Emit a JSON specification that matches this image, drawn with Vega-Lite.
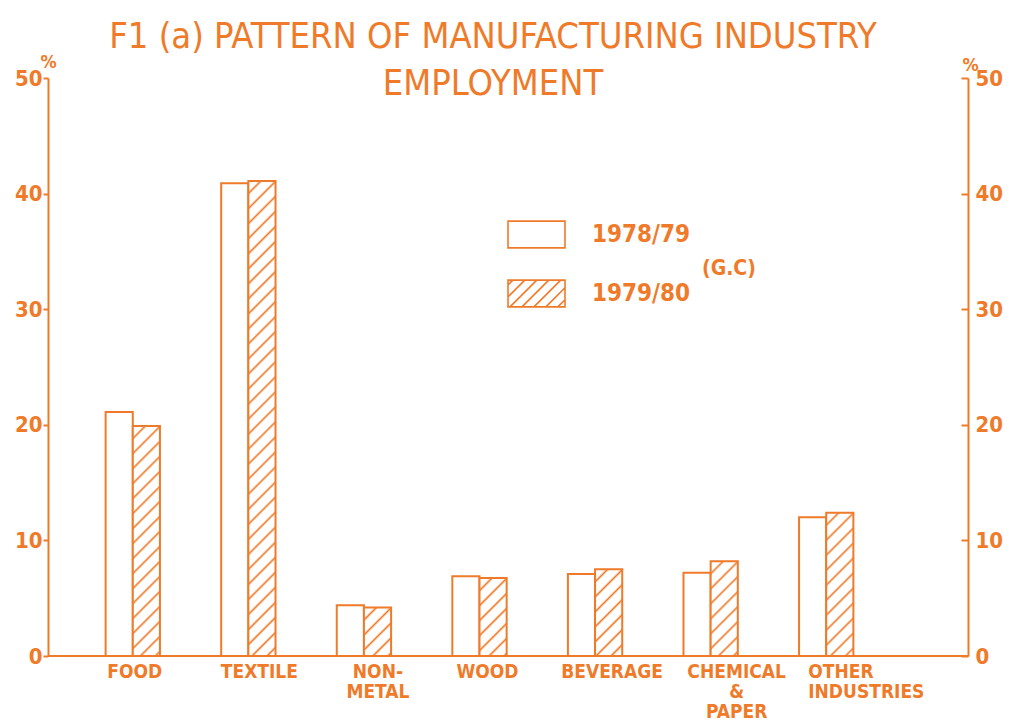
{
"$schema": "https://vega.github.io/schema/vega-lite/v6.json",
"width": 920, "height": 578,
"autosize": "none",
"padding": {"left": 48, "top": 78, "right": 42, "bottom": 68},
"background": "white",
"title": {"text": ["F1 (a) PATTERN OF MANUFACTURING INDUSTRY", "EMPLOYMENT"], "anchor": "middle", "frame": "group", "offset": -78, "dx": -15, "baseline": "alphabetic", "font": "DejaVu Sans Condensed", "fontSize": 36, "fontWeight": "normal", "color": "#ef7b2a", "lineHeight": 47},
"config": {"view": {"stroke": null}, "font": "DejaVu Sans Condensed"},
"data": {"values": [
{"cat": "FOOD", "year": "1978/79", "value": 21.1},
{"cat": "FOOD", "year": "1979/80", "value": 19.9},
{"cat": "TEXTILE", "year": "1978/79", "value": 40.9},
{"cat": "TEXTILE", "year": "1979/80", "value": 41.1},
{"cat": "NON-METAL", "year": "1978/79", "value": 4.4},
{"cat": "NON-METAL", "year": "1979/80", "value": 4.2},
{"cat": "WOOD", "year": "1978/79", "value": 6.9},
{"cat": "WOOD", "year": "1979/80", "value": 6.75},
{"cat": "BEVERAGE", "year": "1978/79", "value": 7.1},
{"cat": "BEVERAGE", "year": "1979/80", "value": 7.5},
{"cat": "CHEMICAL & PAPER", "year": "1978/79", "value": 7.2},
{"cat": "CHEMICAL & PAPER", "year": "1979/80", "value": 8.2},
{"cat": "OTHER INDUSTRIES", "year": "1978/79", "value": 12.0},
{"cat": "OTHER INDUSTRIES", "year": "1979/80", "value": 12.4}
]},
"layer": [
{
"mark": {"type": "bar", "strokeWidth": 2, "orient": "vertical"},
"encoding": {
"x": {"field": "cat", "type": "nominal", "sort": null,
 "scale": {"range": [27, 836], "paddingInner": 0.53, "paddingOuter": 0.265},
 "axis": {"title": null, "domain": false, "ticks": false, "labelAngle": 0, "labelFontSize": 19, "labelFontWeight": "bold", "labelColor": "#ef7b2a", "labelPadding": 6, "labelLineHeight": 20, "labelBaseline": "top", "labelOverlap": false, "labelLimit": 0,
  "labelExpr": "datum.label == 'NON-METAL' ? ['NON-','METAL'] : datum.label == 'CHEMICAL & PAPER' ? ['CHEMICAL','&','PAPER'] : datum.label == 'OTHER INDUSTRIES' ? ['OTHER','INDUSTRIES'] : datum.label",
  "labelOffset": {"condition": [
   {"test": "datum.value === 'TEXTILE'", "value": 11},
   {"test": "datum.value === 'NON-METAL'", "value": 14},
   {"test": "datum.value === 'WOOD'", "value": 8},
   {"test": "datum.value === 'BEVERAGE'", "value": 17},
   {"test": "datum.value === 'CHEMICAL & PAPER'", "value": 26},
   {"test": "datum.value === 'OTHER INDUSTRIES'", "value": -18}
  ], "value": 2},
  "labelAlign": {"condition": {"test": "datum.value === 'OTHER INDUSTRIES'", "value": "left"}, "value": "center"}
 }},
"xOffset": {"field": "year", "type": "nominal", "scale": {"paddingInner": 0, "paddingOuter": 0}},
"y": {"field": "value", "type": "quantitative", "scale": {"domain": [0, 50], "nice": false},
 "axis": {"orient": "left", "values": [0, 10, 20, 30, 40, 50], "grid": false, "title": "%", "titleAngle": 0, "titleX": 0, "titleY": -7, "titleAlign": "center", "titleBaseline": "bottom", "titleFontSize": 18, "titleFontWeight": "bold", "titleColor": "#ef7b2a", "labelFontSize": 22, "labelFontWeight": "bold", "labelColor": "#ef7b2a", "labelPadding": 1, "tickSize": 5, "tickWidth": 2, "tickColor": "#ef7b2a", "domainColor": "#ef7b2a", "domainWidth": 2}},
"fill": {"condition": [
 {"test": "datum.year === '1979/80' && datum.cat === 'FOOD'", "value": {"gradient": "linear", "x1": 0, "y1": 0, "x2": 0.13667, "y2": 1.15757, "stops": [
  {"offset": 0, "color": "#fff"},
  {"offset": 0.0378, "color": "#fff"}, {"offset": 0.0467, "color": "#ef7b2a"}, {"offset": 0.0556, "color": "#fff"},
  {"offset": 0.0933, "color": "#fff"}, {"offset": 0.1022, "color": "#ef7b2a"}, {"offset": 0.1111, "color": "#fff"},
  {"offset": 0.1489, "color": "#fff"}, {"offset": 0.1578, "color": "#ef7b2a"}, {"offset": 0.1667, "color": "#fff"},
  {"offset": 0.2044, "color": "#fff"}, {"offset": 0.2133, "color": "#ef7b2a"}, {"offset": 0.2222, "color": "#fff"},
  {"offset": 0.26, "color": "#fff"}, {"offset": 0.2689, "color": "#ef7b2a"}, {"offset": 0.2778, "color": "#fff"},
  {"offset": 0.3156, "color": "#fff"}, {"offset": 0.3244, "color": "#ef7b2a"}, {"offset": 0.3333, "color": "#fff"},
  {"offset": 0.3711, "color": "#fff"}, {"offset": 0.38, "color": "#ef7b2a"}, {"offset": 0.3889, "color": "#fff"},
  {"offset": 0.4267, "color": "#fff"}, {"offset": 0.4356, "color": "#ef7b2a"}, {"offset": 0.4444, "color": "#fff"},
  {"offset": 0.4822, "color": "#fff"}, {"offset": 0.4911, "color": "#ef7b2a"}, {"offset": 0.5, "color": "#fff"},
  {"offset": 0.5378, "color": "#fff"}, {"offset": 0.5467, "color": "#ef7b2a"}, {"offset": 0.5556, "color": "#fff"},
  {"offset": 0.5933, "color": "#fff"}, {"offset": 0.6022, "color": "#ef7b2a"}, {"offset": 0.6111, "color": "#fff"},
  {"offset": 0.6489, "color": "#fff"}, {"offset": 0.6578, "color": "#ef7b2a"}, {"offset": 0.6667, "color": "#fff"},
  {"offset": 0.7044, "color": "#fff"}, {"offset": 0.7133, "color": "#ef7b2a"}, {"offset": 0.7222, "color": "#fff"},
  {"offset": 0.76, "color": "#fff"}, {"offset": 0.7689, "color": "#ef7b2a"}, {"offset": 0.7778, "color": "#fff"},
  {"offset": 0.8156, "color": "#fff"}, {"offset": 0.8244, "color": "#ef7b2a"}, {"offset": 0.8333, "color": "#fff"},
  {"offset": 0.8711, "color": "#fff"}, {"offset": 0.88, "color": "#ef7b2a"}, {"offset": 0.8889, "color": "#fff"},
  {"offset": 0.9267, "color": "#fff"}, {"offset": 0.9356, "color": "#ef7b2a"}, {"offset": 0.9444, "color": "#fff"},
  {"offset": 0.9822, "color": "#fff"}, {"offset": 0.9911, "color": "#ef7b2a"}, {"offset": 1, "color": "#fff"}
 ]}},
 {"test": "datum.year === '1979/80' && datum.cat === 'TEXTILE'", "value": {"gradient": "linear", "x1": 0, "y1": 0, "x2": 0.06146, "y2": 1.07252, "stops": [
  {"offset": 0, "color": "#fff"},
  {"offset": 0.02, "color": "#fff"}, {"offset": 0.0247, "color": "#ef7b2a"}, {"offset": 0.0294, "color": "#fff"},
  {"offset": 0.0494, "color": "#fff"}, {"offset": 0.0541, "color": "#ef7b2a"}, {"offset": 0.0588, "color": "#fff"},
  {"offset": 0.0788, "color": "#fff"}, {"offset": 0.0835, "color": "#ef7b2a"}, {"offset": 0.0882, "color": "#fff"},
  {"offset": 0.1082, "color": "#fff"}, {"offset": 0.1129, "color": "#ef7b2a"}, {"offset": 0.1176, "color": "#fff"},
  {"offset": 0.1376, "color": "#fff"}, {"offset": 0.1424, "color": "#ef7b2a"}, {"offset": 0.1471, "color": "#fff"},
  {"offset": 0.1671, "color": "#fff"}, {"offset": 0.1718, "color": "#ef7b2a"}, {"offset": 0.1765, "color": "#fff"},
  {"offset": 0.1965, "color": "#fff"}, {"offset": 0.2012, "color": "#ef7b2a"}, {"offset": 0.2059, "color": "#fff"},
  {"offset": 0.2259, "color": "#fff"}, {"offset": 0.2306, "color": "#ef7b2a"}, {"offset": 0.2353, "color": "#fff"},
  {"offset": 0.2553, "color": "#fff"}, {"offset": 0.26, "color": "#ef7b2a"}, {"offset": 0.2647, "color": "#fff"},
  {"offset": 0.2847, "color": "#fff"}, {"offset": 0.2894, "color": "#ef7b2a"}, {"offset": 0.2941, "color": "#fff"},
  {"offset": 0.3141, "color": "#fff"}, {"offset": 0.3188, "color": "#ef7b2a"}, {"offset": 0.3235, "color": "#fff"},
  {"offset": 0.3435, "color": "#fff"}, {"offset": 0.3482, "color": "#ef7b2a"}, {"offset": 0.3529, "color": "#fff"},
  {"offset": 0.3729, "color": "#fff"}, {"offset": 0.3776, "color": "#ef7b2a"}, {"offset": 0.3824, "color": "#fff"},
  {"offset": 0.4024, "color": "#fff"}, {"offset": 0.4071, "color": "#ef7b2a"}, {"offset": 0.4118, "color": "#fff"},
  {"offset": 0.4318, "color": "#fff"}, {"offset": 0.4365, "color": "#ef7b2a"}, {"offset": 0.4412, "color": "#fff"},
  {"offset": 0.4612, "color": "#fff"}, {"offset": 0.4659, "color": "#ef7b2a"}, {"offset": 0.4706, "color": "#fff"},
  {"offset": 0.4906, "color": "#fff"}, {"offset": 0.4953, "color": "#ef7b2a"}, {"offset": 0.5, "color": "#fff"},
  {"offset": 0.52, "color": "#fff"}, {"offset": 0.5247, "color": "#ef7b2a"}, {"offset": 0.5294, "color": "#fff"},
  {"offset": 0.5494, "color": "#fff"}, {"offset": 0.5541, "color": "#ef7b2a"}, {"offset": 0.5588, "color": "#fff"},
  {"offset": 0.5788, "color": "#fff"}, {"offset": 0.5835, "color": "#ef7b2a"}, {"offset": 0.5882, "color": "#fff"},
  {"offset": 0.6082, "color": "#fff"}, {"offset": 0.6129, "color": "#ef7b2a"}, {"offset": 0.6176, "color": "#fff"},
  {"offset": 0.6376, "color": "#fff"}, {"offset": 0.6424, "color": "#ef7b2a"}, {"offset": 0.6471, "color": "#fff"},
  {"offset": 0.6671, "color": "#fff"}, {"offset": 0.6718, "color": "#ef7b2a"}, {"offset": 0.6765, "color": "#fff"},
  {"offset": 0.6965, "color": "#fff"}, {"offset": 0.7012, "color": "#ef7b2a"}, {"offset": 0.7059, "color": "#fff"},
  {"offset": 0.7259, "color": "#fff"}, {"offset": 0.7306, "color": "#ef7b2a"}, {"offset": 0.7353, "color": "#fff"},
  {"offset": 0.7553, "color": "#fff"}, {"offset": 0.76, "color": "#ef7b2a"}, {"offset": 0.7647, "color": "#fff"},
  {"offset": 0.7847, "color": "#fff"}, {"offset": 0.7894, "color": "#ef7b2a"}, {"offset": 0.7941, "color": "#fff"},
  {"offset": 0.8141, "color": "#fff"}, {"offset": 0.8188, "color": "#ef7b2a"}, {"offset": 0.8235, "color": "#fff"},
  {"offset": 0.8435, "color": "#fff"}, {"offset": 0.8482, "color": "#ef7b2a"}, {"offset": 0.8529, "color": "#fff"},
  {"offset": 0.8729, "color": "#fff"}, {"offset": 0.8776, "color": "#ef7b2a"}, {"offset": 0.8824, "color": "#fff"},
  {"offset": 0.9024, "color": "#fff"}, {"offset": 0.9071, "color": "#ef7b2a"}, {"offset": 0.9118, "color": "#fff"},
  {"offset": 0.9318, "color": "#fff"}, {"offset": 0.9365, "color": "#ef7b2a"}, {"offset": 0.9412, "color": "#fff"},
  {"offset": 0.9612, "color": "#fff"}, {"offset": 0.9659, "color": "#ef7b2a"}, {"offset": 0.9706, "color": "#fff"},
  {"offset": 0.9906, "color": "#fff"}, {"offset": 0.9953, "color": "#ef7b2a"}, {"offset": 1, "color": "#fff"}
 ]}},
 {"test": "datum.year === '1979/80' && datum.cat === 'NON-METAL'", "value": {"gradient": "linear", "x1": 0, "y1": 0, "x2": 0.78984, "y2": 1.41188, "stops": [
  {"offset": 0, "color": "#fff"},
  {"offset": 0.1133, "color": "#fff"}, {"offset": 0.14, "color": "#ef7b2a"}, {"offset": 0.1667, "color": "#fff"},
  {"offset": 0.28, "color": "#fff"}, {"offset": 0.3067, "color": "#ef7b2a"}, {"offset": 0.3333, "color": "#fff"},
  {"offset": 0.4467, "color": "#fff"}, {"offset": 0.4733, "color": "#ef7b2a"}, {"offset": 0.5, "color": "#fff"},
  {"offset": 0.6133, "color": "#fff"}, {"offset": 0.64, "color": "#ef7b2a"}, {"offset": 0.6667, "color": "#fff"},
  {"offset": 0.78, "color": "#fff"}, {"offset": 0.8067, "color": "#ef7b2a"}, {"offset": 0.8333, "color": "#fff"},
  {"offset": 0.9467, "color": "#fff"}, {"offset": 0.9733, "color": "#ef7b2a"}, {"offset": 1, "color": "#fff"}
 ]}},
 {"test": "datum.year === '1979/80' && datum.cat === 'WOOD'", "value": {"gradient": "linear", "x1": 0, "y1": 0, "x2": 0.47744, "y2": 1.37167, "stops": [
  {"offset": 0, "color": "#fff"},
  {"offset": 0.085, "color": "#fff"}, {"offset": 0.105, "color": "#ef7b2a"}, {"offset": 0.125, "color": "#fff"},
  {"offset": 0.21, "color": "#fff"}, {"offset": 0.23, "color": "#ef7b2a"}, {"offset": 0.25, "color": "#fff"},
  {"offset": 0.335, "color": "#fff"}, {"offset": 0.355, "color": "#ef7b2a"}, {"offset": 0.375, "color": "#fff"},
  {"offset": 0.46, "color": "#fff"}, {"offset": 0.48, "color": "#ef7b2a"}, {"offset": 0.5, "color": "#fff"},
  {"offset": 0.585, "color": "#fff"}, {"offset": 0.605, "color": "#ef7b2a"}, {"offset": 0.625, "color": "#fff"},
  {"offset": 0.71, "color": "#fff"}, {"offset": 0.73, "color": "#ef7b2a"}, {"offset": 0.75, "color": "#fff"},
  {"offset": 0.835, "color": "#fff"}, {"offset": 0.855, "color": "#ef7b2a"}, {"offset": 0.875, "color": "#fff"},
  {"offset": 0.96, "color": "#fff"}, {"offset": 0.98, "color": "#ef7b2a"}, {"offset": 1, "color": "#fff"}
 ]}},
 {"test": "datum.year === '1979/80' && datum.cat === 'BEVERAGE'", "value": {"gradient": "linear", "x1": 0, "y1": 0, "x2": 0.39483, "y2": 1.26039, "stops": [
  {"offset": 0, "color": "#fff"},
  {"offset": 0.085, "color": "#fff"}, {"offset": 0.105, "color": "#ef7b2a"}, {"offset": 0.125, "color": "#fff"},
  {"offset": 0.21, "color": "#fff"}, {"offset": 0.23, "color": "#ef7b2a"}, {"offset": 0.25, "color": "#fff"},
  {"offset": 0.335, "color": "#fff"}, {"offset": 0.355, "color": "#ef7b2a"}, {"offset": 0.375, "color": "#fff"},
  {"offset": 0.46, "color": "#fff"}, {"offset": 0.48, "color": "#ef7b2a"}, {"offset": 0.5, "color": "#fff"},
  {"offset": 0.585, "color": "#fff"}, {"offset": 0.605, "color": "#ef7b2a"}, {"offset": 0.625, "color": "#fff"},
  {"offset": 0.71, "color": "#fff"}, {"offset": 0.73, "color": "#ef7b2a"}, {"offset": 0.75, "color": "#fff"},
  {"offset": 0.835, "color": "#fff"}, {"offset": 0.855, "color": "#ef7b2a"}, {"offset": 0.875, "color": "#fff"},
  {"offset": 0.96, "color": "#fff"}, {"offset": 0.98, "color": "#ef7b2a"}, {"offset": 1, "color": "#fff"}
 ]}},
 {"test": "datum.year === '1979/80' && datum.cat === 'CHEMICAL & PAPER'", "value": {"gradient": "linear", "x1": 0, "y1": 0, "x2": 0.37711, "y2": 1.31615, "stops": [
  {"offset": 0, "color": "#fff"},
  {"offset": 0.0756, "color": "#fff"}, {"offset": 0.0933, "color": "#ef7b2a"}, {"offset": 0.1111, "color": "#fff"},
  {"offset": 0.1867, "color": "#fff"}, {"offset": 0.2044, "color": "#ef7b2a"}, {"offset": 0.2222, "color": "#fff"},
  {"offset": 0.2978, "color": "#fff"}, {"offset": 0.3156, "color": "#ef7b2a"}, {"offset": 0.3333, "color": "#fff"},
  {"offset": 0.4089, "color": "#fff"}, {"offset": 0.4267, "color": "#ef7b2a"}, {"offset": 0.4444, "color": "#fff"},
  {"offset": 0.52, "color": "#fff"}, {"offset": 0.5378, "color": "#ef7b2a"}, {"offset": 0.5556, "color": "#fff"},
  {"offset": 0.6311, "color": "#fff"}, {"offset": 0.6489, "color": "#ef7b2a"}, {"offset": 0.6667, "color": "#fff"},
  {"offset": 0.7422, "color": "#fff"}, {"offset": 0.76, "color": "#ef7b2a"}, {"offset": 0.7778, "color": "#fff"},
  {"offset": 0.8533, "color": "#fff"}, {"offset": 0.8711, "color": "#ef7b2a"}, {"offset": 0.8889, "color": "#fff"},
  {"offset": 0.9644, "color": "#fff"}, {"offset": 0.9822, "color": "#ef7b2a"}, {"offset": 1, "color": "#fff"}
 ]}},
 {"test": "datum.year === '1979/80' && datum.cat === 'OTHER INDUSTRIES'", "value": {"gradient": "linear", "x1": 0, "y1": 0, "x2": 0.22969, "y2": 1.21223, "stops": [
  {"offset": 0, "color": "#fff"},
  {"offset": 0.0567, "color": "#fff"}, {"offset": 0.07, "color": "#ef7b2a"}, {"offset": 0.0833, "color": "#fff"},
  {"offset": 0.14, "color": "#fff"}, {"offset": 0.1533, "color": "#ef7b2a"}, {"offset": 0.1667, "color": "#fff"},
  {"offset": 0.2233, "color": "#fff"}, {"offset": 0.2367, "color": "#ef7b2a"}, {"offset": 0.25, "color": "#fff"},
  {"offset": 0.3067, "color": "#fff"}, {"offset": 0.32, "color": "#ef7b2a"}, {"offset": 0.3333, "color": "#fff"},
  {"offset": 0.39, "color": "#fff"}, {"offset": 0.4033, "color": "#ef7b2a"}, {"offset": 0.4167, "color": "#fff"},
  {"offset": 0.4733, "color": "#fff"}, {"offset": 0.4867, "color": "#ef7b2a"}, {"offset": 0.5, "color": "#fff"},
  {"offset": 0.5567, "color": "#fff"}, {"offset": 0.57, "color": "#ef7b2a"}, {"offset": 0.5833, "color": "#fff"},
  {"offset": 0.64, "color": "#fff"}, {"offset": 0.6533, "color": "#ef7b2a"}, {"offset": 0.6667, "color": "#fff"},
  {"offset": 0.7233, "color": "#fff"}, {"offset": 0.7367, "color": "#ef7b2a"}, {"offset": 0.75, "color": "#fff"},
  {"offset": 0.8067, "color": "#fff"}, {"offset": 0.82, "color": "#ef7b2a"}, {"offset": 0.8333, "color": "#fff"},
  {"offset": 0.89, "color": "#fff"}, {"offset": 0.9033, "color": "#ef7b2a"}, {"offset": 0.9167, "color": "#fff"},
  {"offset": 0.9733, "color": "#fff"}, {"offset": 0.9867, "color": "#ef7b2a"}, {"offset": 1, "color": "#fff"}
 ]}}
], "value": "#fff"},
"stroke": {"field": "year", "type": "nominal", "scale": {"domain": ["1978/79", "1979/80"], "range": ["#ef7b2a", "#ef7b2a"]},
 "legend": {"orient": "none", "legendX": 459, "legendY": 127, "direction": "vertical", "title": "(G.C)", "titleOrient": "right", "titleFontSize": 21, "titleFontWeight": "bold", "titleColor": "#ef7b2a", "titlePadding": 12, "titleAnchor": "middle", "titleBaseline": "top",
  "labelFontSize": 24, "labelFontWeight": "bold", "labelColor": "#ef7b2a", "labelOffset": 26,
  "symbolType": {"expr": "datum.value === '1979/80' ? 'M-1,-0.47H1V0.47H-1Z M-1,-0.3L-0.83,-0.47 M-1,0.12L-0.41,-0.47 M-0.93,0.47L0.01,-0.47 M-0.51,0.47L0.43,-0.47 M-0.09,0.47L0.85,-0.47 M0.33,0.47L1,-0.2 M0.75,0.47L1,0.22' : 'M-1,-0.47H1V0.47H-1Z'"},
  "symbolSize": 3249, "symbolStrokeWidth": 1.6, "symbolStrokeColor": "#ef7b2a", "symbolFillColor": "#fff", "rowPadding": 12
 }}
}
},
{
"mark": {"type": "rule", "color": "#ef7b2a", "strokeWidth": 2},
"encoding": {
"y": {"datum": 0, "type": "quantitative", "scale": {"domain": [0, 50], "nice": false},
 "axis": {"orient": "right", "values": [0, 10, 20, 30, 40, 50], "grid": false, "title": "%", "titleAngle": 0, "titleX": 2, "titleY": -4, "titleAlign": "center", "titleBaseline": "bottom", "titleFontSize": 18, "titleFontWeight": "bold", "titleColor": "#ef7b2a", "labelFontSize": 22, "labelFontWeight": "bold", "labelColor": "#ef7b2a", "labelPadding": 14, "tickSize": -7, "tickWidth": 2, "tickColor": "#ef7b2a", "domainColor": "#ef7b2a", "domainWidth": 2}}
}
}
],
"resolve": {"scale": {"y": "independent"}, "axis": {"y": "independent"}}
}
